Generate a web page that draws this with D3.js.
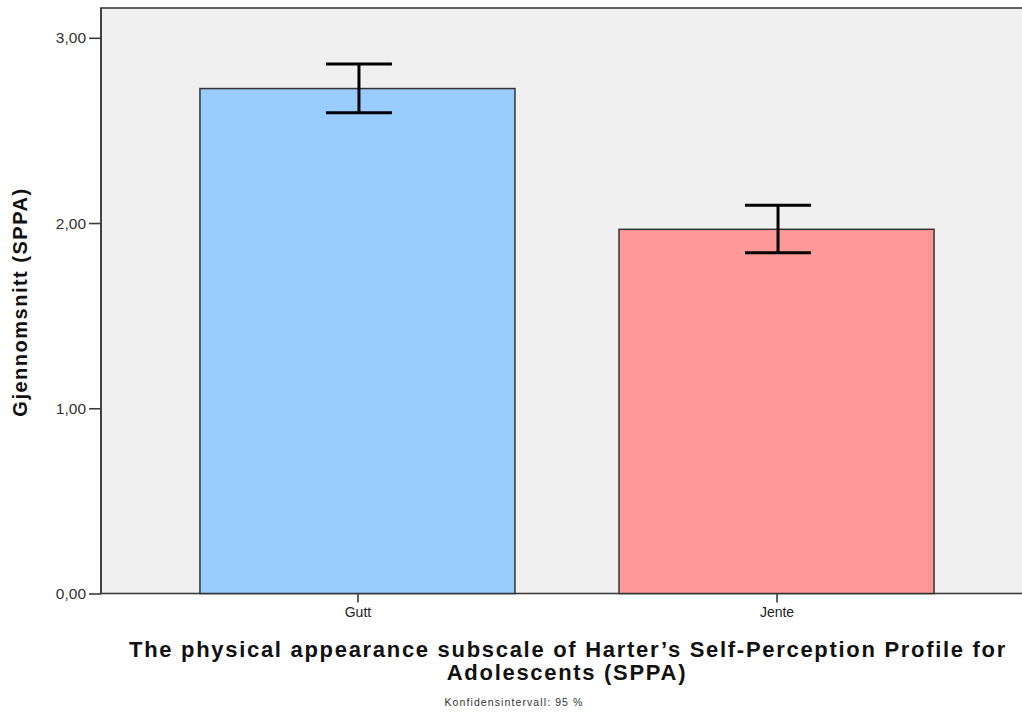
<!DOCTYPE html>
<html>
<head>
<meta charset="utf-8">
<script src="https://cdn.jsdelivr.net/npm/d3@7"></script>
<style>
  html, body { margin: 0; padding: 0; background: #fff; }
  svg { display: block; }
  text { font-family: "Liberation Sans", Arial, sans-serif; }
</style>
</head>
<body>
<svg id="chart" width="1022" height="715"></svg>
<script>
// Mean SPPA physical appearance score by gender, with 95 % confidence intervals
const categories = ["Gutt", "Jente"];
const means = [2.726, 1.966];
const ciLower = [2.596, 1.840];
const ciUpper = [2.858, 2.096];
const barColors = ["#99ccff", "#ff9999"];
const yTicks = [0, 1, 2, 3];

const svg = d3.select("#chart");
const plot = { left: 101, top: 8, right: 1033, bottom: 593.5 };

const x = d3.scalePoint()
  .domain(categories)
  .range([plot.left, plot.right])
  .padding(0.612);
const barWidth = 315;

const y = d3.scaleLinear()
  .domain([0, 3])
  .range([plot.bottom, 37.8]);

// plot background
svg.append("rect")
  .attr("x", plot.left).attr("y", plot.top)
  .attr("width", plot.right - plot.left)
  .attr("height", plot.bottom - plot.top)
  .attr("fill", "#f0f0f0")
  .attr("stroke", "#3c3c3c")
  .attr("stroke-width", 1.6);

// bars
svg.append("g").selectAll("rect")
  .data(categories)
  .join("rect")
  .attr("x", d => x(d) - barWidth / 2)
  .attr("width", barWidth)
  .attr("y", (d, i) => y(means[i]))
  .attr("height", (d, i) => y(0) - y(means[i]))
  .attr("fill", (d, i) => barColors[i])
  .attr("stroke", "#333")
  .attr("stroke-width", 1.5);

// error bars
const capHalf = 33;
const eb = svg.append("g").attr("stroke", "#000").attr("stroke-width", 3);
categories.forEach((c, i) => {
  const cx = x(c) + 1.5;
  eb.append("line").attr("x1", cx).attr("x2", cx)
    .attr("y1", y(ciUpper[i])).attr("y2", y(ciLower[i]));
  eb.append("line").attr("x1", cx - capHalf).attr("x2", cx + capHalf)
    .attr("y1", y(ciUpper[i])).attr("y2", y(ciUpper[i]));
  eb.append("line").attr("x1", cx - capHalf).attr("x2", cx + capHalf)
    .attr("y1", y(ciLower[i])).attr("y2", y(ciLower[i]));
});

// y axis
const yAxis = svg.append("g")
  .attr("transform", `translate(${plot.left},0)`)
  .call(d3.axisLeft(y).tickValues(yTicks).tickSize(12).tickPadding(3)
    .tickFormat(d => d3.format(".2f")(d).replace(".", ",")));
yAxis.select(".domain").attr("stroke", "#3c3c3c").attr("stroke-width", 1.6)
  .attr("d", `M0,${plot.top}V${plot.bottom}`);
yAxis.selectAll(".tick line").attr("stroke", "#3c3c3c").attr("stroke-width", 1.6);
yAxis.selectAll(".tick text").attr("font-size", 15.5).attr("fill", "#333")
  .attr("font-family", "'Liberation Sans', Arial, sans-serif");

// x axis
const xAxis = svg.append("g")
  .attr("transform", `translate(0,${plot.bottom})`)
  .call(d3.axisBottom(x).tickSize(9).tickPadding(5));
xAxis.select(".domain").remove();
xAxis.selectAll(".tick line").attr("stroke", "#3c3c3c").attr("stroke-width", 1.6);
xAxis.selectAll(".tick text").attr("font-size", 14).attr("fill", "#222")
  .attr("font-family", "'Liberation Sans', Arial, sans-serif");

// y axis title
svg.append("text")
  .attr("transform", "translate(27,302) rotate(-90)")
  .attr("text-anchor", "middle")
  .attr("font-size", 20).attr("font-weight", "bold").attr("fill", "#111")
  .attr("letter-spacing", 1.5)
  .text("Gjennomsnitt (SPPA)");

// x axis title
const xt = svg.append("text")
  .attr("text-anchor", "middle")
  .attr("font-size", 22).attr("font-weight", "bold").attr("fill", "#111")
  .attr("letter-spacing", 1.7);
xt.append("tspan").attr("x", 568).attr("y", 657)
  .text("The physical appearance subscale of Harter\u2019s Self-Perception Profile for");
xt.append("tspan").attr("x", 567).attr("y", 680)
  .text("Adolescents (SPPA)");

// footnote
svg.append("text")
  .attr("x", 514).attr("y", 706)
  .attr("text-anchor", "middle")
  .attr("font-size", 10.5).attr("fill", "#333")
  .attr("letter-spacing", 1.1)
  .text("Konfidensintervall: 95 %");
</script>
</body>
</html>
